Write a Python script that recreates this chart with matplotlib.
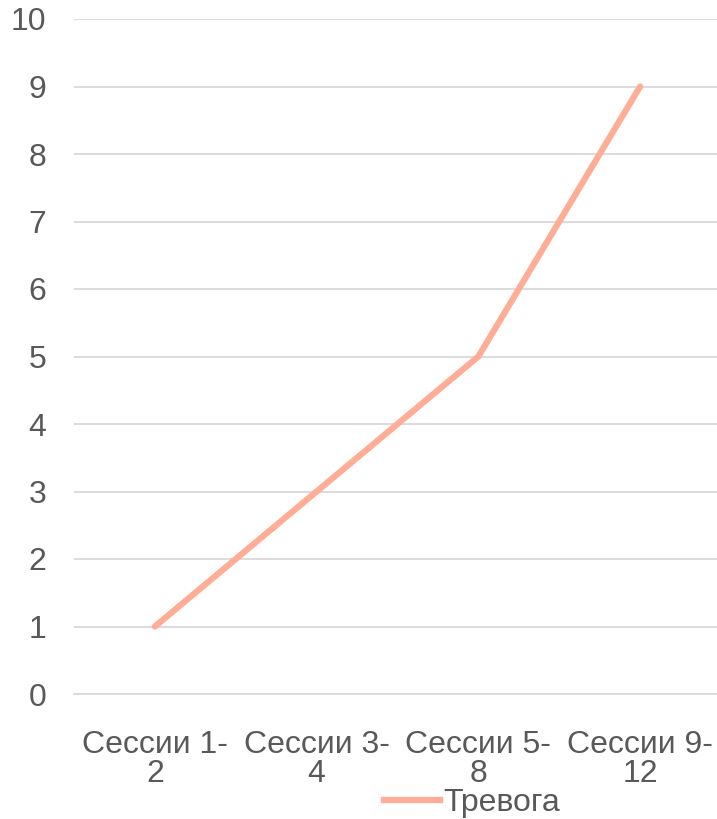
import matplotlib
matplotlib.use("Agg")
import matplotlib.pyplot as plt
from matplotlib.lines import Line2D

categories = ["Сессии 1-\n2", "Сессии 3-\n4", "Сессии 5-\n8", "Сессии 9-\n12"]
anxiety = [1, 3, 5, 9]
series_name = "Тревога"
yticks = list(range(0, 11))

plt.rcParams['font.family'] = ['Liberation Sans', 'DejaVu Sans']
W, H = 717, 819
fig = plt.figure(figsize=(W/100, H/100), dpi=100)
ax = fig.add_axes([74/W, 1-694/H, (721-74)/W, (694-19)/H])
x = list(range(len(categories)))
ax.plot(x, anxiety, color='#FFAD96', lw=4.5, solid_capstyle='round', solid_joinstyle='miter', zorder=3)
ax.set_xlim(-0.5, 3.5)
ax.set_ylim(0, 10)
ax.set_yticks(yticks)
ax.set_xticks(x)
ax.set_xticklabels(categories, linespacing=0.95)
ax.grid(axis='y', color='#D9D9D9', lw=1.3)
ax.set_axisbelow(True)
for s in ax.spines.values():
    s.set_visible(False)
ax.spines['bottom'].set_visible(True)
ax.spines['bottom'].set_color('#D9D9D9')
ax.spines['bottom'].set_linewidth(1.3)
ax.tick_params(axis='both', length=0, labelsize=23, labelcolor='#595959')
ax.tick_params(axis='y', pad=20)
ax.tick_params(axis='x', pad=26)
handle = Line2D([], [], color='#FFAD96', lw=4.5)
fig.legend([handle], [series_name], loc='center', bbox_to_anchor=(472/W, 1-803/H),
           frameon=False, fontsize=23, labelcolor='#595959', handlelength=1.75,
           handletextpad=0.1, borderpad=0)
fig.savefig("out.png", dpi=100)
